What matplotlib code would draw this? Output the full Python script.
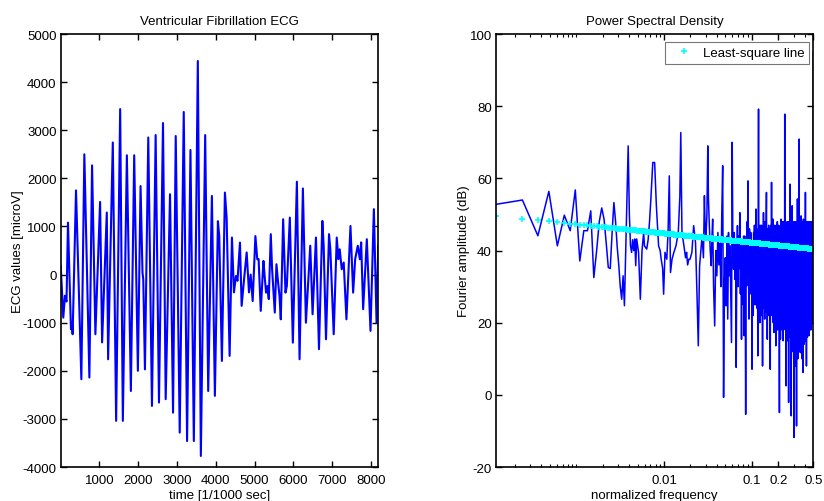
import numpy as np
import matplotlib
matplotlib.use("Agg")
import matplotlib.pyplot as plt
from matplotlib.ticker import FixedLocator, NullFormatter

plt.rcParams['font.family'] = ['Liberation Sans', 'DejaVu Sans']
plt.rcParams['axes.unicode_minus'] = False
FS = 9.5

# ---------------- ECG data (local extrema) ----------------
ecg_t = [1, 67, 110, 150, 188, 265, 290, 308, 395, 533, 610, 740, 809, 895, 1016,
         1068, 1189, 1223, 1344, 1430, 1534, 1603, 1707, 1810, 1896, 1991, 2060,
         2110, 2130, 2173, 2259, 2354, 2449, 2535, 2639, 2708, 2820, 2898, 2967,
         3070, 3174, 3260, 3347, 3434, 3537, 3615, 3727, 3805, 3900, 3977, 4055,
         4090, 4158, 4236, 4280, 4357, 4417, 4469, 4520, 4560, 4624, 4667, 4728,
         4797, 4857, 4900, 4952, 5022, 5070, 5105, 5160, 5229, 5260, 5298, 5333,
         5367, 5419, 5453, 5522, 5565, 5608, 5643, 5677, 5738, 5798, 5833, 5910,
         5988, 6092, 6161, 6247, 6325, 6437, 6497, 6584, 6662, 6749, 6783, 6843,
         6921, 6955, 7042, 7120, 7163, 7197, 7249, 7300, 7370, 7474, 7543, 7595,
         7663, 7715, 7750, 7801, 7896, 7991, 8078, 8147, 8192]
ecg_v = [180, -895, -440, -560, 1080, -1135, -1000, -1240, 1750, -2175, 2500, -2140,
         2270, -1240, 1510, -1410, 1290, -1760, 2745, -3040, 3440, -3040, 2480, -2420,
         2480, -2000, 1840, 40, -100, -1970, 2850, -2730, 2900, -2660, 3150, -2590,
         1670, -2870, 2880, -3285, 3380, -3460, 2590, -3460, 4440, -3770, 2900, -2420,
         1635, -2520, 1110, 800, -1795, 1705, 1185, -1690, 770, -370, -30, -130, 665,
         -650, -110, 460, -370, 0, -550, 800, 320, 320, -755, 285, -30, -375, -240,
         -510, 840, 110, -790, 215, -170, -440, -930, 1150, -375, -240, 1185, -1415,
         1930, -1760, 1790, -1000, 600, -825, 770, -1550, 1115, 600, -1345, 840, 525,
         -1240, 770, 320, 525, 110, 250, -930, 1010, -375, 320, 600, 320, 670, -720,
         735, -1170, 1360, -1000, 600]

ecg_xticks = [1000, 2000, 3000, 4000, 5000, 6000, 7000, 8000]
ecg_yticks = [-4000, -3000, -2000, -1000, 0, 1000, 2000, 3000, 4000, 5000]

# ---------------- PSD data (bin index k of N=8192, amplitude in dB) ----------------
N_FFT = 8192
# low-frequency part, individual bins
psd_low_k = [1, 2, 3, 4, 5, 6, 7, 8, 9, 10, 11, 12, 13, 14, 15, 16, 17, 18, 19, 20, 21,
             22, 23, 24, 25, 26, 27, 28, 29, 30, 31, 32, 33, 34, 35, 36, 37, 38, 39, 40,
             42, 44, 46, 48, 49, 52, 54, 56, 58, 61, 64, 67, 71, 74, 76, 79, 81, 84, 88,
             91, 94, 97, 101, 106, 112, 119, 124, 127, 131, 138, 144, 148, 152, 157, 162,
             170, 178, 187, 194, 201, 208, 215, 222, 230, 236, 240, 245, 252, 258, 262,
             267, 275, 282, 288, 293]
psd_low_db = [52.8, 54.0, 44.1, 56.4, 41.3, 49.8, 45.5, 56.8, 37.1, 45.5, 45.5, 51.0,
              32.5, 40, 48, 51.8, 48.7, 42, 35.3, 35, 45, 53.3, 48, 41, 36, 30, 26.5, 33,
              24.7, 40, 55, 69, 50, 41.3, 39.5, 43, 40, 43.2, 35.8, 43.2, 39.5, 26.5, 40,
              45, 41.3, 40.4, 43, 48, 54.3, 64.4, 64.4, 52.4, 41.3, 40, 37.6, 35, 27.9,
              39.5, 37.6, 45, 60.7, 33.9, 37.6, 39.5, 41.3, 45, 55, 72.7, 45, 41.3, 38,
              39.5, 36, 37.6, 37.6, 39.5, 46.9, 42.2, 28.4, 13.6, 35.8, 40, 44, 38, 55.2,
              47, 43, 50, 69, 55, 48.7, 40, 35.8, 44, 48.7]
# dense high-frequency part: every 9th bin starting at bin 300
psd_dense_start, psd_dense_step = 300, 9
psd_dense_db = [
    30, 19.1, 40, 33, 45, 36, 42, 30, 50, 63.5,
    -0.7, 30, 38, 24.7, 44, 21, 45, 33, 41.3, 28,
    14.5, 70, 40, 34.8, 45, 32, 43, 7.6, 38, 46.9,
    30, 44, 35, 50.5, 28, 42, 15.4, 42, 39.5, 25,
    44, 16.4, 44, 35, -5.4, 38, 30.2, 48, 33, 59.3,
    33, 21, 46, 44, 28, 45, 30, 40, 7.1, 40,
    41.3, 22, 45, 28.4, 47, 25, 37.6, 25, 51.5, 30,
    46, 24, 44, 10.8, 45, 79.2, 35, 22, 39.5, 20,
    47, 28.4, 46, 22, 47, 26, 45, 8, 45, 30,
    50.5, 24, 46, 30, 21, 48, 28, 47, 23, 48,
    56.1, 32, 46, 15.4, 46, 26, 36.7, 24, 47, 22,
    45, 28, 46, 24, 7.1, 45, 30, 47, 22, 58.9,
    30, 46, 22.8, 44, 26, 48.7, 20, 47, 26, 17.3,
    46, 28.4, 47, 24, 42, 20, 46, 13.6, 45, 25,
    47, 22, 46, 28, 48, 18, 46, 25, 44, 20,
    47, 27, 45, 22, -4.9, 36, 39.5, 25, 46, 15.4,
    47, 24, 48.7, 20, 46, 30, 47, 18, 45, 22,
    48, 25, 46, 15, 47, 28, 44, 20, 48, 26,
    46, 22, 77.8, 40, 47, 18, 46, 24, 45, 20,
    2.5, 46, 25, 47, 39.5, 20, 48, 15, 46, 24,
    47, 18, 45, 26, 48, -2.1, 47, 22, 46, 16,
    48, 24, 45, 20, 58.4, 25, 47, 18, 46, 22,
    48, 20, -5.8, 48, 24, 46, 15, 47, 52.4, 22,
    46, 18, 48, 12, 47, 24, 45, 20, 48, 10,
    46, -11.8, 47, 22, 46, 16, 48, 20, 46.9, 14,
    47, 22, 45, 8, 48, 20, 46, 15, 47, 20,
    -8.6, 47, 24, 46, 12, 48, 20, 54.3, 18, 46,
    10, 47, 22, 45, 16, 48, 20, 46, 14, 47,
    30, 70.9, 25, 47, 12, 46, 20, 48, 15, 46,
    22, 47, 11.7, 48, 20, 46, 15, 49.6, 22, 47,
    14, 46, 20, 48, 10, 47, 22, 46, 18, 48,
    16, 47, 22, 45, 12, 6.2, 47, 20, 48.7, 18,
    46, 22, 48, 14, 47, 20, 46, 18, 48, 20,
    46, 24, 47, 15, 48, 20, 46, 56.1, 24, 47,
    18, 46, 22, 48, 15, 47, 20, 8, 46, 22,
    45, 20, 48, 18, 46, 22, 47, 16, 48, 20,
    46, 24, 47, 18, 48, 22, 46, 20, 47, 24,
    46, 20, 48, 22, 16.4, 47, 24, 46, 20, 48,
    22, 46, 18, 47, 25, 48, 20, 46, 22, 47,
    20, 48, 24, 46, 18, 47, 22, 48, 20, 46,
    25, 47, 20, 48, 22, 46, 24, 47, 20, 48,
    22, 46, 20, 47, 25, 48, 20, 46, 22, 47,
    20, 48]
# Nyquist bin
psd_last_k = [4096]
psd_last_db = [95]

# least-square line in dB vs log10(normalized frequency): [slope, intercept]
lsq_coeffs = [-2.55, 39.63]

psd_xticks = [0.01, 0.1, 0.2, 0.5]
psd_xticklabels = ['0.01', '0.1', '0.2', '0.5']
psd_yticks = [-20, 0, 20, 40, 60, 80, 100]

# ---------------- figure ----------------
fig = plt.figure(figsize=(8.24, 5.02), dpi=100)
ax1 = fig.add_axes([0.0737, 0.0677, 0.3854, 0.8625])
ax2 = fig.add_axes([0.6019, 0.0677, 0.3851, 0.8625])

# Left: ECG
ax1.plot(ecg_t, ecg_v, color='#0000ff', lw=1.5)
ax1.set_xlim(1, 8192)
ax1.set_ylim(-4000, 5000)
ax1.set_xticks(ecg_xticks)
ax1.set_yticks(ecg_yticks)
ax1.set_title('Ventricular Fibrillation ECG', fontsize=FS, pad=7)
ax1.set_xlabel('time [1/1000 sec]', fontsize=FS, labelpad=2.5)
ax1.set_ylabel('ECG values [microV]', fontsize=FS, labelpad=-1)

# Right: PSD
dense_k = psd_dense_start + psd_dense_step * np.arange(len(psd_dense_db))
all_k = np.concatenate([psd_low_k, dense_k, psd_last_k])
all_db = np.concatenate([psd_low_db, psd_dense_db, psd_last_db])
ax2.plot(all_k / N_FFT, all_db, color='#0000ff', lw=1.1)
fit_f = np.arange(1, N_FFT // 2 + 1) / N_FFT
fit_db = np.polyval(lsq_coeffs, np.log10(fit_f))
ax2.plot(fit_f, fit_db, linestyle='none', marker='+', color='#00ffff',
         markersize=4, mew=1.2, label='Least-square line')
ax2.set_xscale('log')
ax2.set_xlim(1 / N_FFT, 0.5)
ax2.set_ylim(-20, 100)
ax2.xaxis.set_major_locator(FixedLocator(psd_xticks))
ax2.set_xticklabels(psd_xticklabels)
minor = [m * 10.0 ** e for e in range(-4, 0) for m in range(1, 10)]
minor = [v for v in minor if 1 / N_FFT < v < 0.5 and v not in psd_xticks]
ax2.xaxis.set_minor_locator(FixedLocator(minor))
ax2.xaxis.set_minor_formatter(NullFormatter())
ax2.set_yticks(psd_yticks)
ax2.set_title('Power Spectral Density', fontsize=FS, pad=7)
ax2.set_xlabel('normalized frequency', fontsize=FS, labelpad=2.5)
ax2.set_ylabel('Fourier amplitude (dB)', fontsize=FS, labelpad=-0.5)
leg = ax2.legend(loc='upper right', bbox_to_anchor=(1 - 0.0126, 1 - 0.0185),
                 borderaxespad=0, fontsize=FS, fancybox=False, framealpha=1,
                 edgecolor='#777777', handlelength=2.2, handletextpad=0.34,
                 borderpad=0.35, markerscale=1.0)
leg.get_frame().set_linewidth(0.8)

for ax in (ax1, ax2):
    ax.tick_params(which='both', direction='in', top=True, right=True,
                   labelsize=FS)
    ax.tick_params(axis='y', pad=3)
    ax.tick_params(axis='x', pad=5)
    ax.tick_params(which='major', length=4, width=1)
    ax.tick_params(which='minor', length=2, width=0.8)
    for s in ax.spines.values():
        s.set_linewidth(1.2)

fig.savefig('out.png', dpi=100)
